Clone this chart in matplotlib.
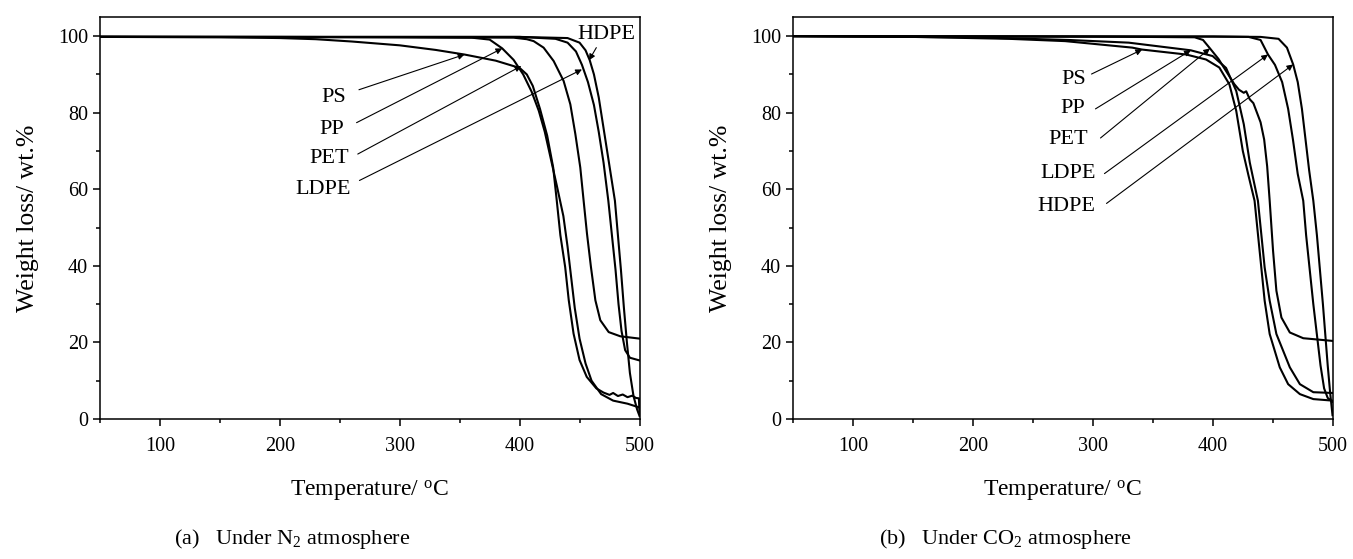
import numpy as np
import matplotlib
matplotlib.use('Agg')
import matplotlib.pyplot as plt
from matplotlib.ticker import MultipleLocator

plt.rcParams['font.family'] = ['Liberation Serif', 'DejaVu Serif']
plt.rcParams['mathtext.fontset'] = 'custom'
plt.rcParams['mathtext.rm'] = 'Liberation Serif'
plt.rcParams['mathtext.it'] = 'Liberation Serif:italic'

# ---- (a) N2 atmosphere: temperature (C) / weight (wt.%)
n2_ps_t = [50, 150, 200, 230, 260, 300, 330, 354, 380, 400, 406, 411, 417, 423, 428, 431, 434, 438, 441,
           445, 450, 456, 464, 470, 475, 478, 482, 486, 490, 494, 497, 499.5, 500]
n2_ps_w = [99.8, 99.7, 99.5, 99.2, 98.6, 97.6, 96.4, 95.2, 93.6, 91.7, 90.0, 87.0, 81.0, 74.0, 65.7, 57.0, 48.0,
           39.7, 31.0, 22.3, 15.4, 11.0, 8.0, 6.9, 6.3, 6.8, 6.0, 6.4, 5.7, 6.1, 5.5, 5.4, 1.5]
n2_pp_t = [50, 200, 300, 360, 375, 385.5, 395, 403, 410, 416, 421, 426, 431, 436.5, 440, 443, 446, 450, 455,
           460, 468, 478, 490, 500]
n2_pp_w = [99.9, 99.8, 99.7, 99.6, 99.1, 96.8, 93.8, 90.0, 85.5, 80.5, 75.0, 68.0, 61.0, 53.0, 45.0, 37.0,
           29.0, 21.0, 14.5, 10.0, 6.5, 4.8, 4.0, 3.0]
n2_pet_t = [50, 300, 395, 406, 411.7, 420, 428.4, 436.7, 442.3, 446.5, 450.6, 453.4, 456.2, 459.5, 463.2,
            467.3, 474.3, 484, 500]
n2_pet_w = [99.8, 99.7, 99.6, 99.2, 98.7, 97.0, 93.5, 88.3, 82.2, 74.4, 65.7, 57.0, 48.4, 39.7, 31.0, 25.8,
            22.7, 21.6, 21.0]
n2_ldpe_t = [50, 300, 400, 430, 440, 447, 452, 457, 462, 466, 470, 474, 477, 480, 482.5, 485, 488, 492, 500]
n2_ldpe_w = [99.8, 99.8, 99.8, 99.3, 98.3, 96.0, 92.5, 88.0, 82.0, 75.0, 67.0, 57.0, 48.0, 39.0, 30.0, 23.0,
             18.0, 16.0, 15.3]
n2_hdpe_t = [50, 300, 400, 440, 450, 455, 458.5, 462, 466, 470, 474, 477, 479.5, 482, 484.5, 487, 489.5, 492,
             495, 498, 500]
n2_hdpe_w = [99.8, 99.8, 99.8, 99.5, 98.3, 96.3, 93.7, 90.0, 84.0, 76.0, 68.0, 62.0, 57.0, 48.0, 39.0, 29.0,
             20.0, 12.0, 6.0, 2.5, 0.8]

# ---- (b) CO2 atmosphere
co2_ps_t = [50, 150, 230, 277, 333, 341, 378, 394.5, 405.6, 414, 419.7, 425.2, 430, 435, 437.8, 440.6, 443.4,
            447.6, 456, 463, 472.8, 484, 500]
co2_ps_w = [100.0, 99.8, 99.3, 98.7, 97.0, 96.5, 95.2, 93.9, 91.8, 87.4, 80.5, 70.0, 63.5, 57.0, 48.3, 39.6,
            30.9, 22.2, 13.5, 9.1, 6.5, 5.2, 4.8]
co2_pp_t = [50, 200, 280, 330, 381.8, 400, 411.2, 419.7, 426, 431, 437.8, 440.6, 443.4, 447.6, 453.2, 464.4,
            472.8, 484, 500]
co2_pp_w = [100.0, 99.7, 99.0, 98.3, 96.3, 94.8, 91.7, 85.7, 77.0, 67.0, 57.0, 48.3, 39.6, 30.9, 22.2, 13.5,
            9.1, 7.0, 6.8]
co2_pet_t = [50, 300, 385, 392, 397.8, 405, 412, 418, 422, 426, 428, 431, 434, 437, 440, 443, 445.5, 447.6,
             450.4, 453.2, 457.4, 464.4, 475.6, 500]
co2_pet_w = [100.0, 99.9, 99.7, 99.0, 96.8, 94.0, 90.5, 87.5, 86.0, 85.2, 85.6, 83.5, 82.5, 80.0, 77.5, 73.0,
             66.0, 57.0, 44.0, 33.5, 26.5, 22.6, 21.1, 20.4]
co2_ldpe_t = [50, 300, 400, 430, 440, 446.2, 452, 458, 463, 467, 471, 475.6, 478, 481, 484, 487, 490, 493,
              496, 500]
co2_ldpe_w = [100.0, 99.9, 99.9, 99.8, 99.0, 95.2, 92.5, 88.0, 81.0, 73.0, 64.0, 57.0, 48.0, 39.0, 30.0, 22.0,
              14.0, 8.0, 5.5, 4.5]
co2_hdpe_t = [50, 300, 400, 440, 455, 462, 467.2, 471, 474.5, 477.5, 480.5, 484, 487, 489.5, 492, 494, 496,
              498, 500]
co2_hdpe_w = [100.0, 99.9, 99.9, 99.8, 99.3, 97.0, 92.6, 88.0, 81.0, 73.0, 65.0, 57.0, 48.0, 39.0, 30.0, 22.0,
              14.0, 7.0, 1.0]

# labels: (name, text pos, line start, arrow tip) in data units
n2_labels = [
    ('PS', (255, 84), (266, 86), (354, 95.2)),
    ('PP', (254, 75.5), (264, 77.4), (385.5, 96.8)),
    ('PET', (258, 68), (265, 69.2), (401.4, 92.2)),
    ('LDPE', (259.5, 60), (266.4, 62.3), (452, 91.3)),
]
co2_labels = [
    ('PS', (294.7, 88.7), (299, 90.1), (341.2, 96.5)),
    ('PP', (293.9, 81), (302.3, 81), (381.8, 96.3)),
    ('PET', (296.4, 72.9), (306.5, 73.4), (397.8, 96.8)),
    ('LDPE', (302.3, 64.1), (309.8, 64.1), (446.2, 95.2)),
    ('HDPE', (302.3, 55.5), (311.5, 56.3), (467.2, 92.6)),
]

fig = plt.figure(figsize=(13.53, 5.59), dpi=100)
ax_h = (419 - 17) / 559
ax1 = fig.add_axes([100 / 1353, 1 - 419 / 559, 539.5 / 1353, ax_h])
ax2 = fig.add_axes([793 / 1353, 1 - 419 / 559, 539.5 / 1353, ax_h])


def style_axis(ax):
    ax.set_xlim(50, 500)
    ax.set_ylim(0, 105)
    ax.xaxis.set_major_locator(MultipleLocator(100))
    ax.xaxis.set_minor_locator(MultipleLocator(50))
    ax.yaxis.set_major_locator(MultipleLocator(20))
    ax.yaxis.set_minor_locator(MultipleLocator(10))
    ax.tick_params(which='both', direction='out', top=False, right=False, labelsize=14.5, width=1.1)
    ax.tick_params(which='major', length=5)
    ax.tick_params(which='minor', length=3)
    ax.tick_params(axis='x', pad=8)
    for s in ax.spines.values():
        s.set_linewidth(1.1)
    ax.set_xlabel('Temperature/ $^{\\mathrm{o}}$C', fontsize=17, labelpad=16)
    ax.set_ylabel('Weight loss/ wt.%', fontsize=18.5, labelpad=14)


def draw_labels(ax, labels):
    for name, txt, start, tip in labels:
        ax.annotate('', xy=tip, xytext=start,
                    arrowprops=dict(arrowstyle='-|>', lw=0.8, color='k', mutation_scale=9,
                                    shrinkA=0, shrinkB=0))
        ax.text(txt[0], txt[1], name, ha='right', va='center', fontsize=16)


lw = 1.5
ax1.plot(n2_ps_t, n2_ps_w, color='k', lw=lw)
ax1.plot(n2_pp_t, n2_pp_w, color='k', lw=lw)
ax1.plot(n2_pet_t, n2_pet_w, color='k', lw=lw)
ax1.plot(n2_ldpe_t, n2_ldpe_w, color='k', lw=lw)
ax1.plot(n2_hdpe_t, n2_hdpe_w, color='k', lw=lw)
style_axis(ax1)
draw_labels(ax1, n2_labels)
ax1.annotate('', xy=(457.9, 93.7), xytext=(464, 97),
             arrowprops=dict(arrowstyle='-|>', lw=0.8, color='k', mutation_scale=9, shrinkA=0, shrinkB=0))
ax1.text(472, 100.3, 'HDPE', ha='center', va='center', fontsize=16)

ax2.plot(co2_ps_t, co2_ps_w, color='k', lw=lw)
ax2.plot(co2_pp_t, co2_pp_w, color='k', lw=lw)
ax2.plot(co2_pet_t, co2_pet_w, color='k', lw=lw)
ax2.plot(co2_ldpe_t, co2_ldpe_w, color='k', lw=lw)
ax2.plot(co2_hdpe_t, co2_hdpe_w, color='k', lw=lw)
style_axis(ax2)
draw_labels(ax2, co2_labels)

fig.text(0.216, 0.035, '(a)   Under N$_2$ atmosphere', ha='center', va='center', fontsize=16)
fig.text(0.743, 0.035, '(b)   Under CO$_2$ atmosphere', ha='center', va='center', fontsize=16)

fig.savefig('out.png', dpi=100)
